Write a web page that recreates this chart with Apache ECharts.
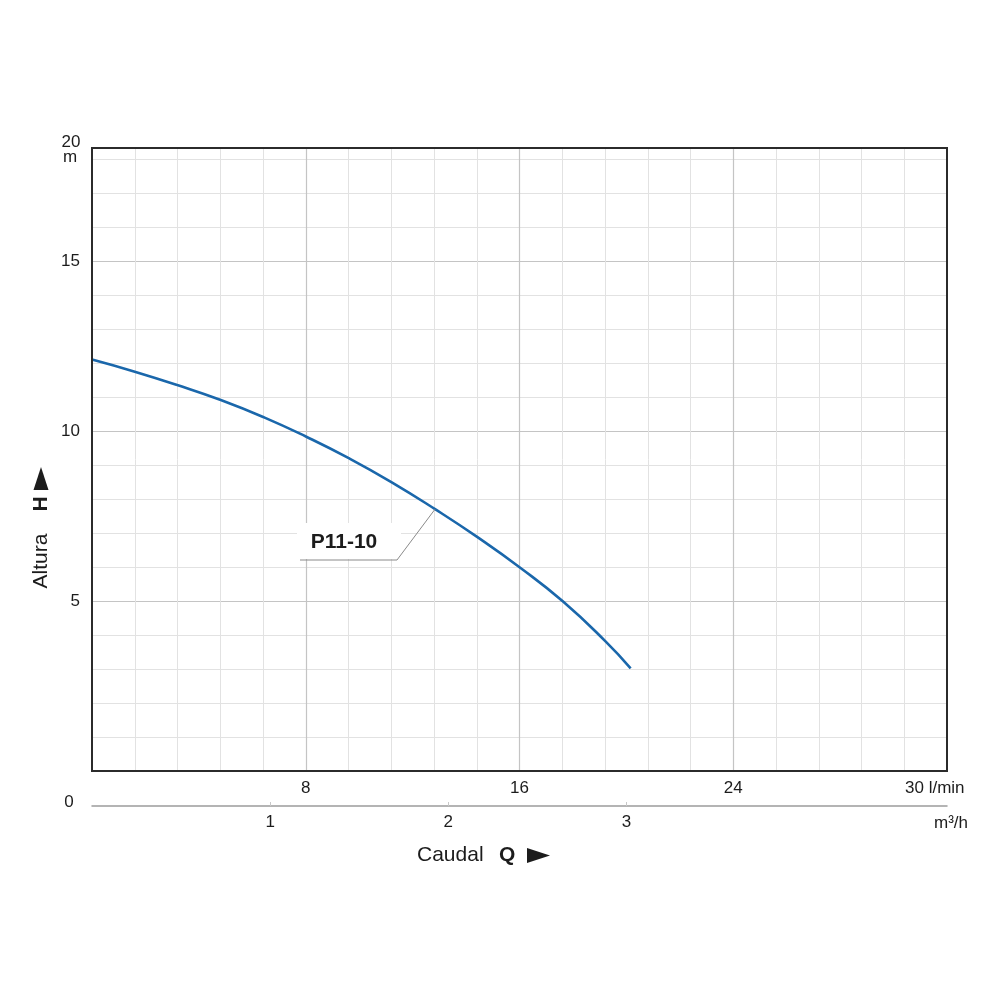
<!DOCTYPE html>
<html><head><meta charset="utf-8">
<script src="https://cdn.jsdelivr.net/npm/echarts@6/dist/echarts.min.js"></script>
<style>html,body{margin:0;padding:0;background:#fff}#c{width:1000px;height:1000px}</style>
</head><body><div id="c"></div>
<script>
// ---- data ----
const flowLmin = [0, 1.57, 3.19, 4.82, 6.44, 8.02, 9.61, 11.22, 12.84, 14.4, 16.04, 17.62, 19.21, 20.16];
const headM    = [12.1, 11.75, 11.35, 10.91, 10.40, 9.83, 9.20, 8.49, 7.70, 6.89, 5.97, 4.99, 3.82, 3.02];
const flowTicksLmin = [8, 16, 24];
const flowTicksM3h = [1, 2, 3];
const headTicks = [5, 10, 15];
const seriesName = 'P11-10';
const labelPoint = [12.84, 7.70];

const FONT = '"Liberation Sans", Arial, Helvetica, sans-serif';
const TXT = '#1c1c1c';
const chart = echarts.init(document.getElementById('c'), null, {renderer: 'canvas'});

const option = {
  animation: false,
  backgroundColor: '#ffffff',
  grid: {left: 92, top: 148, width: 855, height: 623, containLabel: false},
  xAxis: [{
    type: 'value', min: 0, max: 32, interval: 8,
    axisLine: {show: true, onZero: false, lineStyle: {color: '#2b2b2b', width: 2}},
    axisTick: {show: false},
    axisLabel: {customValues: flowTicksLmin, formatter: v => flowTicksLmin.includes(v) ? String(v) : '',
      margin: 9, color: TXT, fontSize: 17, fontFamily: FONT},
    splitLine: {show: true, showMinLine: false, showMaxLine: false, lineStyle: {color: '#c4c4c4', width: 1.2}},
    minorTick: {show: false, splitNumber: 5},
    minorSplitLine: {show: true, lineStyle: {color: '#e2e2e2', width: 1}}
  }, {
    type: 'value', min: 0, max: 4.8, interval: 1, position: 'bottom', offset: 35,
    axisLine: {show: true, onZero: false, lineStyle: {color: '#9c9c9c', width: 1.5}},
    axisTick: {show: true, inside: true, length: 4, customValues: flowTicksM3h, lineStyle: {color: '#c8c8c8'}},
    axisLabel: {customValues: flowTicksM3h, formatter: v => flowTicksM3h.includes(v) ? String(v) : '',
      margin: 8, color: TXT, fontSize: 17, fontFamily: FONT},
    splitLine: {show: false}
  }],
  yAxis: [{
    type: 'value', min: 0, max: 18.32, interval: 1, position: 'left',
    axisLine: {show: true, onZero: false, lineStyle: {color: '#2b2b2b', width: 2}},
    axisTick: {show: false},
    axisLabel: {customValues: headTicks, formatter: v => headTicks.includes(v) ? String(v) : '',
      margin: 12, color: TXT, fontSize: 17, fontFamily: FONT},
    splitLine: {show: true, showMinLine: false, showMaxLine: false, lineStyle: {color: '#e2e2e2', width: 1}}
  }, {
    type: 'value', min: 0, max: 18.32, interval: 5, position: 'left',
    axisLine: {show: false}, axisTick: {show: false}, axisLabel: {show: false},
    splitLine: {show: true, showMinLine: false, showMaxLine: false, lineStyle: {color: '#c4c4c4', width: 1.2}}
  }],
  series: [{
    type: 'line', name: seriesName, xAxisIndex: 0, yAxisIndex: 0,
    data: flowLmin.map((q, i) => [q, headM[i]]),
    smooth: 0.5, symbol: 'none', showSymbol: false,
    lineStyle: {color: '#1a67ab', width: 2.6}, z: 5
  }]
};
chart.setOption(option);

const anchor = chart.convertToPixel({xAxisIndex: 0, yAxisIndex: 0}, labelPoint);
const font = (size, weight) => (weight || 'normal') + ' ' + size + 'px ' + FONT;

chart.setOption({
  graphic: [
    {type: 'rect', z: 50, silent: true, shape: {x: 92, y: 148, width: 855, height: 623},
      style: {fill: 'none', stroke: '#2b2b2b', lineWidth: 2}},
    // label box for series
    {type: 'rect', z: 40, shape: {x: 297, y: 523, width: 104, height: 36}, style: {fill: '#ffffff'}},
    {type: 'polyline', z: 41, shape: {points: [[300, 560], [397, 560], anchor]},
      style: {stroke: '#8a8a8a', lineWidth: 1, fill: 'none'}},
    {type: 'text', z: 42, x: 344, y: 542, style: {text: seriesName, font: font(21, 'bold'), fill: TXT,
      align: 'center', verticalAlign: 'middle'}},
    // y axis extras
    {type: 'text', z: 42, x: 71, y: 142, style: {text: '20', font: font(17), fill: TXT, align: 'center', verticalAlign: 'middle'}},
    {type: 'text', z: 42, x: 70, y: 157, style: {text: 'm', font: font(17), fill: TXT, align: 'center', verticalAlign: 'middle'}},
    {type: 'text', z: 42, x: 69, y: 802, style: {text: '0', font: font(17), fill: TXT, align: 'center', verticalAlign: 'middle'}},
    // x axis extras
    {type: 'text', z: 42, x: 905, y: 788, style: {text: '30 l/min', font: font(17), fill: TXT, align: 'left', verticalAlign: 'middle'}},
    {type: 'text', z: 42, x: 968, y: 823, style: {text: 'm³/h', font: font(17), fill: TXT, align: 'right', verticalAlign: 'middle'}},
    // axis titles
    {type: 'text', z: 42, x: 417, y: 855, style: {text: 'Caudal', font: font(21), fill: TXT, align: 'left', verticalAlign: 'middle'}},
    {type: 'text', z: 42, x: 499, y: 855, style: {text: 'Q', font: font(21, 'bold'), fill: TXT, align: 'left', verticalAlign: 'middle'}},
    {type: 'polygon', z: 42, shape: {points: [[527, 848], [550, 855.5], [527, 863]]}, style: {fill: TXT}},
    {type: 'text', z: 42, x: 41, y: 561, rotation: Math.PI / 2,
      style: {text: 'Altura', font: font(21), fill: TXT, align: 'center', verticalAlign: 'middle'}},
    {type: 'text', z: 42, x: 41, y: 504, rotation: Math.PI / 2,
      style: {text: 'H', font: font(21, 'bold'), fill: TXT, align: 'center', verticalAlign: 'middle'}},
    {type: 'polygon', z: 42, shape: {points: [[33.5, 490], [41, 467], [48.5, 490]]}, style: {fill: TXT}}
  ]
});
</script>
</body></html>
